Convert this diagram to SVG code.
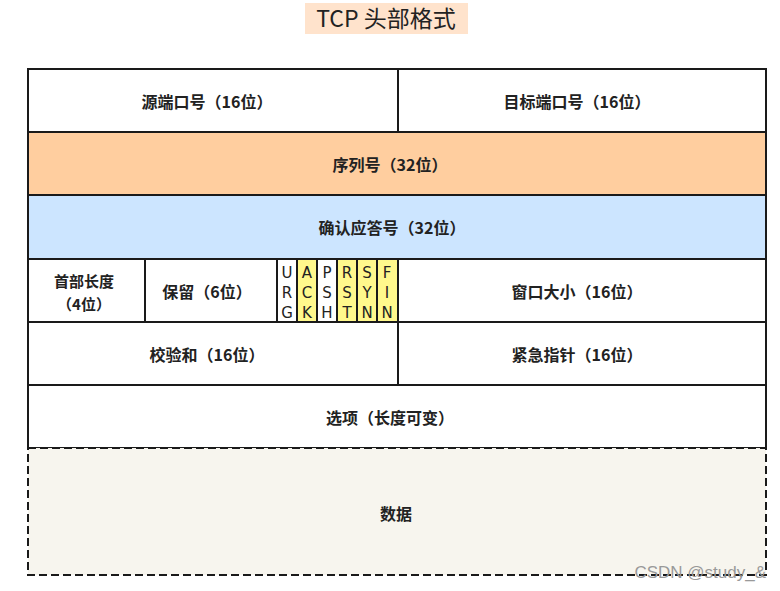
<svg xmlns="http://www.w3.org/2000/svg" width="780" height="591" viewBox="0 0 780 591">
<style>
.c{stroke:#1a1a1a;stroke-width:2}
.t{font-family:"Noto Sans CJK SC","Liberation Sans",sans-serif;font-size:16px;font-weight:bold;fill:#222;text-anchor:middle;dominant-baseline:central}
.f{font-family:"DejaVu Sans","Liberation Sans",sans-serif;font-size:15px;fill:#222;text-anchor:middle}
.y{fill:#FFF88C}
.w{fill:#FFFFFF}
</style>
<rect width="780" height="591" fill="#FFFFFF"/>
<g id="title">
<rect x="305" y="3" width="163" height="31" fill="#FFE3CC"/>
<text x="386" y="27" font-family="Noto Sans CJK SC,Liberation Sans,sans-serif" font-size="23" fill="#222" text-anchor="middle">TCP 头部格式</text>
</g>
<g id="src-port"><rect class="c w" x="28" y="69" width="370" height="63"/><text class="t" x="207" y="101">源端口号（16位）</text></g>
<g id="dst-port"><rect class="c w" x="398" y="69" width="368" height="63"/><text class="t" x="577" y="101">目标端口号（16位）</text></g>
<g id="seq"><rect class="c" fill="#FFCE9F" x="28" y="132" width="738" height="63"/><text class="t" x="390" y="164">序列号（32位）</text></g>
<g id="ack"><rect class="c" fill="#CCE5FF" x="28" y="195" width="738" height="64"/><text class="t" x="392" y="227">确认应答号（32位）</text></g>
<g id="hlen"><rect class="c w" x="28" y="259" width="117" height="63"/><text class="t" x="84" y="280" style="font-size:15px">首部长度</text><text class="t" x="84" y="303" style="font-size:15px">（4位）</text></g>
<g id="reserved"><rect class="c w" x="145" y="259" width="132" height="63"/><text class="t" x="207" y="291">保留（6位）</text></g>
<g id="urg"><rect class="c w" x="277" y="259" width="20" height="63" stroke-width="1"/><text class="f"><tspan x="287" y="278">U</tspan><tspan x="287" y="298">R</tspan><tspan x="287" y="318">G</tspan></text></g>
<g id="ackf"><rect class="c y" x="297" y="259" width="20" height="63" stroke-width="1"/><text class="f"><tspan x="307" y="278">A</tspan><tspan x="307" y="298">C</tspan><tspan x="307" y="318">K</tspan></text></g>
<g id="psh"><rect class="c w" x="317" y="259" width="20" height="63" stroke-width="1"/><text class="f"><tspan x="327" y="278">P</tspan><tspan x="327" y="298">S</tspan><tspan x="327" y="318">H</tspan></text></g>
<g id="rst"><rect class="c y" x="337" y="259" width="20" height="63" stroke-width="1"/><text class="f"><tspan x="347" y="278">R</tspan><tspan x="347" y="298">S</tspan><tspan x="347" y="318">T</tspan></text></g>
<g id="syn"><rect class="c y" x="357" y="259" width="20" height="63" stroke-width="1"/><text class="f"><tspan x="367" y="278">S</tspan><tspan x="367" y="298">Y</tspan><tspan x="367" y="318">N</tspan></text></g>
<g id="fin"><rect class="c y" x="377" y="259" width="21" height="63" stroke-width="1"/><text class="f"><tspan x="387" y="278">F</tspan><tspan x="387" y="298">I</tspan><tspan x="387" y="318">N</tspan></text></g>
<g id="window"><rect class="c w" x="398" y="259" width="368" height="63"/><text class="t" x="577" y="291">窗口大小（16位）</text></g>
<g id="checksum"><rect class="c w" x="28" y="322" width="370" height="63"/><text class="t" x="207" y="354">校验和（16位）</text></g>
<g id="urgent"><rect class="c w" x="398" y="322" width="368" height="63"/><text class="t" x="577" y="354">紧急指针（16位）</text></g>
<g id="options"><rect class="c w" x="28" y="385" width="738" height="63"/><text class="t" x="390" y="417">选项（长度可变）</text></g>
<g id="data"><rect class="c" fill="#F7F5EE" stroke-dasharray="8 4" x="28" y="448" width="738" height="127"/><text class="t" x="396" y="513">数据</text></g>
<g id="connectors"></g>
<text x="766" y="578" font-family="Liberation Sans,sans-serif" font-size="17" fill="#999" text-anchor="end">CSDN @study_&amp;</text>
</svg>
